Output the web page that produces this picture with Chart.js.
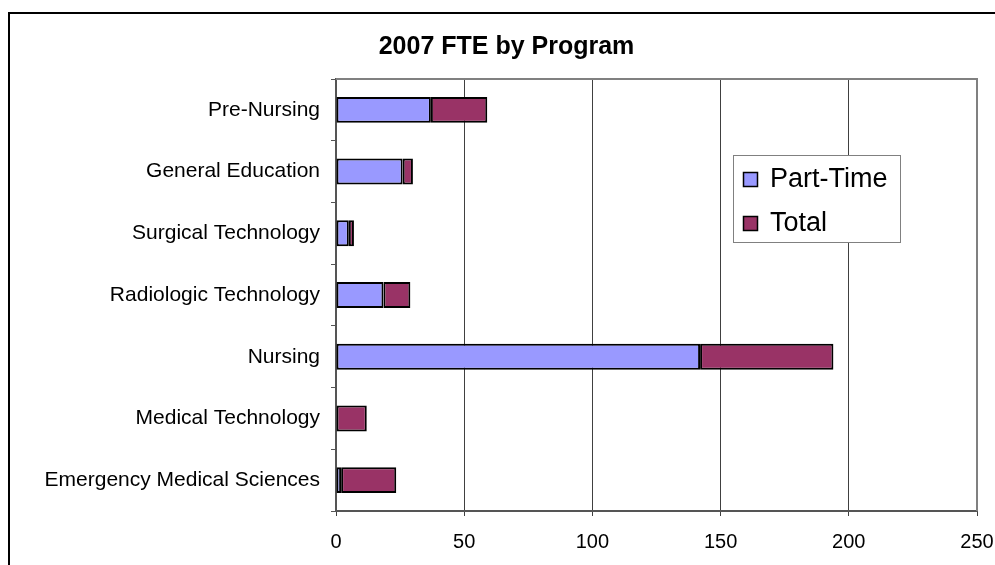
<!DOCTYPE html>
<html>
<head>
<meta charset="utf-8">
<script src="https://cdn.jsdelivr.net/npm/chart.js@4"></script>
<style>
  body { margin: 0; background: #fff; }
  canvas { display: block; }
</style>
</head>
<body>
<canvas id="fteChart" width="995" height="565"></canvas>
<script>
const programs = [
  "Pre-Nursing",
  "General Education",
  "Surgical Technology",
  "Radiologic Technology",
  "Nursing",
  "Medical Technology",
  "Emergency Medical Sciences",
];
const partTime = [37, 26, 5, 18.5, 142, 0, 2];
const total = [22, 4, 2, 10.5, 52, 12, 21.5];
const xTicks = [0, 50, 100, 150, 200, 250];

const FONT = "'Liberation Sans', Arial, sans-serif";

// outer frame and gray plot border like the old Excel chart
const framePlugin = {
  id: "frame",
  beforeDraw(chart) {
    const ctx = chart.ctx;
    ctx.save();
    ctx.strokeStyle = "#000";
    ctx.lineWidth = 2;
    ctx.beginPath();
    ctx.moveTo(9, 565);
    ctx.lineTo(9, 13);
    ctx.lineTo(995, 13);
    ctx.stroke();
    ctx.restore();
  },
  afterDraw(chart) {
    const { ctx, chartArea } = chart;
    ctx.save();
    ctx.strokeStyle = "#808080";
    ctx.lineWidth = 2;
    ctx.beginPath();
    ctx.moveTo(chartArea.left, chartArea.top);
    ctx.lineTo(chartArea.right, chartArea.top);
    ctx.lineTo(chartArea.right, chartArea.bottom);
    ctx.stroke();
    ctx.restore();
  },
};

// legend box sitting inside the plot, right side
const boxLegend = {
  id: "boxLegend",
  afterDraw(chart) {
    const ctx = chart.ctx;
    ctx.save();
    ctx.fillStyle = "#fff";
    ctx.fillRect(733, 155, 167, 87);
    ctx.strokeStyle = "#808080";
    ctx.lineWidth = 1;
    ctx.strokeRect(733.5, 155.5, 167, 87);
    ctx.font = "27px " + FONT;
    ctx.textBaseline = "middle";
    chart.data.datasets.forEach((ds, i) => {
      const cy = 179 + i * 44;
      ctx.fillStyle = ds.backgroundColor;
      ctx.fillRect(743, cy - 7, 14, 14);
      ctx.strokeStyle = "#000";
      ctx.lineWidth = 1.5;
      ctx.strokeRect(743.5, cy - 6.5, 14, 14);
      ctx.fillStyle = "#000";
      ctx.fillText(ds.label, 770, cy + 1);
    });
    ctx.restore();
  },
};

new Chart(document.getElementById("fteChart"), {
  type: "bar",
  data: {
    labels: programs,
    datasets: [
      {
        label: "Part-Time",
        data: partTime,
        backgroundColor: "#9999FF",
        borderColor: "#000",
        borderWidth: 2,
        borderSkipped: false,
      },
      {
        label: "Total",
        data: total,
        backgroundColor: "#993366",
        borderColor: "#000",
        borderWidth: 2,
        borderSkipped: false,
      },
    ],
  },
  options: {
    indexAxis: "y",
    responsive: false,
    animation: false,
    barPercentage: 0.42,
    categoryPercentage: 1,
    layout: { padding: { left: 36, right: 18, top: 0, bottom: 0 } },
    plugins: {
      legend: { display: false },
      tooltip: { enabled: false },
      title: {
        display: true,
        text: "2007 FTE by Program",
        color: "#000",
        font: { family: FONT, size: 25, weight: "bold" },
        padding: { top: 32, bottom: 17 },
      },
    },
    scales: {
      x: {
        stacked: true,
        min: 0,
        max: 250,
        afterBuildTicks: (scale) => {
          scale.ticks = xTicks.map((v) => ({ value: v }));
        },
        afterFit: (scale) => {
          scale.height = 54;
          scale.paddingLeft = 0;
          scale.paddingRight = 0;
        },
        grid: { color: "#404040", lineWidth: 1, tickLength: 5 },
        border: { color: "#555", width: 2 },
        ticks: {
          color: "#000",
          padding: 14,
          maxRotation: 0,
          font: { family: FONT, size: 20 },
        },
      },
      y: {
        stacked: true,
        afterFit: (scale) => {
          scale.width = 300;
        },
        grid: {
          drawOnChartArea: false,
          drawTicks: true,
          tickLength: 5,
          color: "#555",
          offset: true,
        },
        border: { color: "#555", width: 2 },
        ticks: {
          color: "#000",
          padding: 11,
          font: { family: FONT, size: 21 },
        },
      },
    },
  },
  plugins: [framePlugin, boxLegend],
});
</script>
</body>
</html>
